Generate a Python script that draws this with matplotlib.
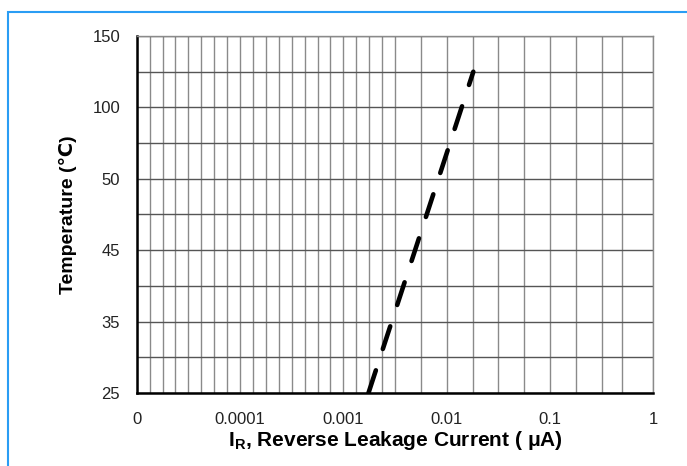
import numpy as np
import matplotlib
matplotlib.use("Agg")
import matplotlib.pyplot as plt
from matplotlib.patches import Rectangle

plt.rcParams['font.family'] = ['Liberation Sans', 'DejaVu Sans']
plt.rcParams['mathtext.fontset'] = 'custom'
plt.rcParams['mathtext.rm'] = 'Liberation Sans'
plt.rcParams['mathtext.bf'] = 'Liberation Sans:bold'

# data
temp_labels = ["25", "35", "45", "50", "100", "150"]
temp_values = [25, 35, 45, 50, 100, 150]
x_ticks = [1e-5, 1e-4, 1e-3, 1e-2, 1e-1, 1]
x_labels = ["0", "0.0001", "0.001", "0.01", "0.1", "1"]

current = [0.00175, 0.0181]   # uA
temp = [25, 125]              # deg C

# vertical grid positions in decades from the left edge (as drawn in the original)
vgrid_dec = list(np.arange(0, 2.5, 0.125)) + [2.5, 2.75, 3.0, 3.25, 3.5, 3.75, 4.0, 4.25, 4.5, 4.7, 5.0]

def temp_pos(t):
    return np.interp(t, temp_values, np.arange(len(temp_values)))

fig = plt.figure(figsize=(6.87, 4.66), dpi=100)
ax = fig.add_axes([0.199, 0.1567, 0.752, 0.7660])

ax.set_xscale('log')
ax.set_xlim(1e-5, 1)
ax.set_ylim(0, 5)

for p in vgrid_dec:
    ax.axvline(10 ** (p - 5), color='#8a8a8a', lw=1.0, zorder=1)
for yy in np.arange(0, 5.01, 0.5):
    ax.axhline(yy, color='#555555', lw=1.0, zorder=1)

ax.plot(current, temp_pos(np.array(temp)), color='black', lw=3.3,
        dashes=(5.2, 4.9), dash_capstyle='round', zorder=3)

ax.set_xticks(x_ticks)
ax.set_xticklabels(x_labels)
ax.xaxis.set_minor_locator(matplotlib.ticker.NullLocator())
ax.set_yticks(range(len(temp_labels)))
ax.set_yticklabels(temp_labels)
ax.tick_params(length=0, labelsize=12, labelcolor='#222222')
ax.tick_params(axis='x', pad=14)
ax.tick_params(axis='y', pad=12)

for s in ['top', 'right']:
    ax.spines[s].set_color('#8a8a8a')
    ax.spines[s].set_linewidth(1.0)
for s in ['left', 'bottom']:
    ax.spines[s].set_color('black')
    ax.spines[s].set_linewidth(1.8)

ax.set_xlabel(r'I$_{\mathbf{R}}$, Reverse Leakage Current ( μA)', fontsize=15, fontweight='bold', labelpad=1)
ax.set_ylabel('Temperature (℃)', fontsize=14, fontweight='bold', labelpad=11)

# blue frame
fig.patches.append(Rectangle((7.5 / 687, -0.1), 1.2, 1 - 11.5 / 466 + 0.1,
                             transform=fig.transFigure, fill=False,
                             edgecolor='#2a9df4', lw=1.5))

fig.savefig('out.png', dpi=100)
